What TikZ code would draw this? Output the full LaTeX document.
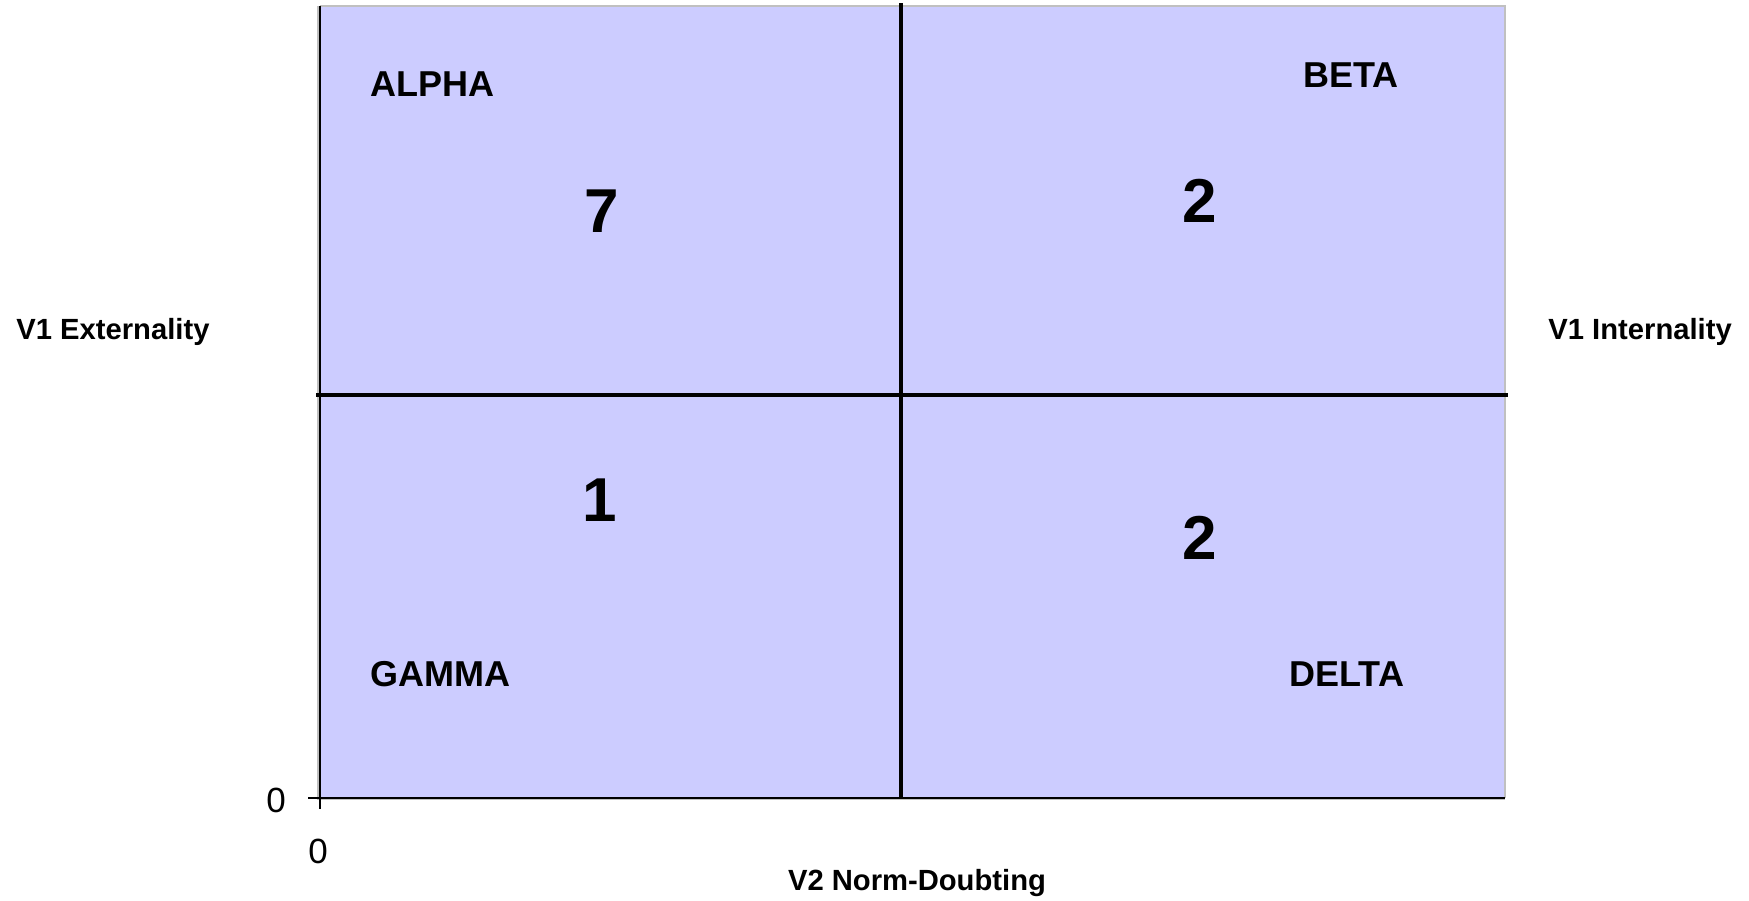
\documentclass[tikz,border=0pt]{standalone}
\usepackage{fontspec}
\setmainfont{Liberation Sans}
\definecolor{quadfill}{HTML}{CCCCFF}
\definecolor{frame}{HTML}{C0C0C0}
\begin{document}
\begin{tikzpicture}[x=0.5pt,y=-0.5pt,
  axislab/.style={font=\fontsize{14.6}{16}\selectfont\bfseries, inner sep=0pt},
  quadlab/.style={font=\fontsize{18}{20}\selectfont\bfseries, inner sep=0pt, anchor=base west},
  count/.style={font=\fontsize{31}{33}\selectfont\bfseries, inner sep=0pt},
  ticklab/.style={font=\fontsize{17.5}{19}\selectfont, inner sep=0pt},
  divider/.style={line width=2pt, black},
  axis/.style={line width=1pt, black}]
\useasboundingbox (0,0) rectangle (1749,900);
% plot area
\coordinate (tl) at (320,6);
\coordinate (br) at (1505,798);
\fill[quadfill] (tl) rectangle (br);
\draw[frame, line width=1.2pt] (320,6) -- (1505,6) -- (1505,798);
\draw[frame, line width=0.8pt] (318,6) -- (318,799) -- (1505,799);
% axes
\coordinate (ytick) at (308,798);
\coordinate (xtick) at (320,809);
\coordinate (origin) at (320,798);
\draw[axis] (320,6) -- (origin) -- (1505,798);
\draw[axis] (ytick) -- (origin) -- (xtick);
% dividers
\coordinate (vtop) at (901,3);
\coordinate (vbot) at (901,797);
\coordinate (hl) at (316,395);
\coordinate (hr) at (1508,395);
\draw[divider] (vtop) -- (vbot);
\draw[divider] (hl) -- (hr);
% quadrant labels
\node[quadlab] (alpha) at (370,96) {ALPHA};
\node[quadlab] (beta) at (1303,87.5) {BETA};
\node[quadlab] (gamma) at (370,686.5) {GAMMA};
\node[quadlab] (delta) at (1289,686.5) {DELTA};
% counts
\node[count] (n7) at (602,211) {7};
\node[count] (n2a) at (1200,201) {2};
\node[count] (n1) at (600,500) {1};
\node[count] (n2b) at (1200,538) {2};
% axis labels
\node[axislab, anchor=base west] (ext) at (16,339) {V1 Externality};
\node[axislab, anchor=base west] (int) at (1548,339) {V1 Internality};
\node[axislab, anchor=base] (v2) at (917,890) {V2 Norm-Doubting};
\node[ticklab] (y0) at (276,800) {0};
\node[ticklab] (x0) at (318,851) {0};
\end{tikzpicture}
\end{document}
